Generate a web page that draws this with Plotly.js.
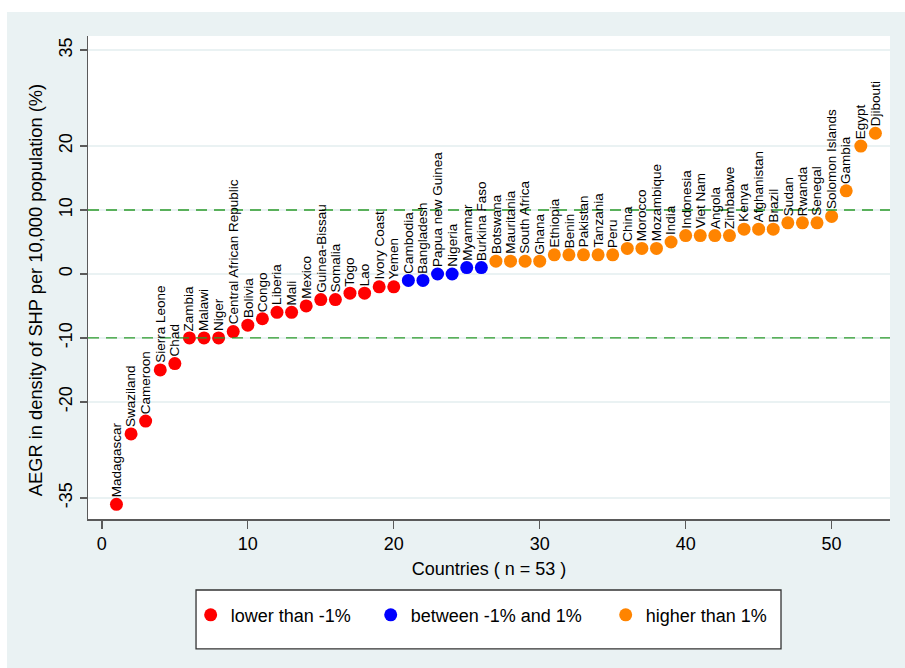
<!DOCTYPE html>
<html>
<head>
<meta charset="utf-8">
<script src="https://cdn.plot.ly/plotly-3.0.1.min.js"></script>
<style>
  html, body { margin: 0; padding: 0; background: #ffffff; width: 905px; height: 668px; overflow: hidden; }
  #chart { position: absolute; left: 7px; top: 12px; width: 898px; height: 656px; }
</style>
</head>
<body>
<div id="chart"></div>
<script>
// ---- data ----
const countries = ["Madagascar","Swaziland","Cameroon","Sierra Leone","Chad","Zambia","Malawi","Niger",
  "Central African Republic","Bolivia","Congo","Liberia","Mali","Mexico","Guinea-Bissau","Somalia","Togo",
  "Lao","Ivory Coast","Yemen","Cambodia","Bangladesh","Papua new Guinea","Nigeria","Myanmar","Burkina Faso",
  "Botswana","Mauritania","South Africa","Ghana","Ethiopia","Benin","Pakistan","Tanzania","Peru","China",
  "Morocco","Mozambique","India","Indonesia","Viet Nam","Angola","Zimbabwe","Kenya","Afghanistan","Brazil",
  "Sudan","Rwanda","Senegal","Solomon Islands","Gambia","Egypt","Djibouti"];
const aegr = [-36,-25,-23,-15,-14,-10,-10,-10,-9,-8,-7,-6,-6,-5,-4,-4,-3,-3,-2,-2,-1,-1,0,0,1,1,
  2,2,2,2,3,3,3,3,3,4,4,4,5,6,6,6,6,7,7,7,8,8,8,9,13,20,22];
const groupNames = ["lower than -1%","between -1% and 1%","higher than 1%"];
const groupColors = ["#ff0000","#0000ff","#ff8400"];
// group index of each country (0 = lower, 1 = between, 2 = higher)
const groupOf = [0,0,0,0,0,0,0,0,0,0,0,0,0,0,0,0,0,0,0,0,1,1,1,1,1,1,
  2,2,2,2,2,2,2,2,2,2,2,2,2,2,2,2,2,2,2,2,2,2,2,2,2,2,2];
const xTicks = [0,10,20,30,40,50];
const yTicks = [-35,-20,-10,0,10,20,35];
const refLines = [-10,10];

const rank = countries.map((c,i)=>i+1);
const font = "Liberation Sans, Arial, sans-serif";
const legendIds = ["legend","legend2","legend3"];
const legendX = [0.128, 0.3525, 0.6455];

const traces = groupNames.map((name,g)=>{
  const idx = rank.map((r,i)=>i).filter(i=>groupOf[i]===g);
  return {
    type: "scatter", mode: "markers", name: name, legend: legendIds[g],
    x: idx.map(i=>rank[i]), y: idx.map(i=>aegr[i]),
    text: idx.map(i=>countries[i]), hoverinfo: "text+y",
    marker: {color: groupColors[g], size: 13, line: {width: 0}}
  };
});

const annotations = countries.map((c,i)=>({
  x: rank[i], y: aegr[i], xref: "x", yref: "y",
  text: c, showarrow: false, textangle: -90,
  xanchor: "center", yanchor: "bottom", yshift: 6, borderpad: 0,
  font: {family: font, size: 13.5, color: "#000000"}
}));
// y-axis title (placed as annotation for exact position)
annotations.push({
  xref: "paper", yref: "paper", x: -0.066, y: 0.474, xanchor: "center", yanchor: "middle",
  text: "AEGR in density of SHP per 10,000 population (%)", showarrow: false, textangle: -90,
  font: {family: font, size: 18.3, color: "#000000"}
});

const shapes = refLines.map(v=>({
  type: "line", xref: "paper", x0: 0, x1: 1, yref: "y", y0: v, y1: v,
  line: {color: "#2a9a2a", width: 1.3, dash: "11px,7px"}, layer: "above"
}));
// legend frame (Stata style box)
shapes.push({type: "rect", xref: "paper", yref: "paper", x0: 0.1347, x1: 0.8641, y0: -0.269, y1: -0.147,
  line: {color: "#333333", width: 1.3}, fillcolor: "#ffffff", layer: "below"});

const legendBase = {orientation: "h", xanchor: "left", y: -0.199, yanchor: "middle",
  bgcolor: "rgba(0,0,0,0)", borderwidth: 0, font: {family: font, size: 18, color: "#000"}};

const layout = {
  width: 898, height: 656,
  margin: {l: 81, r: 15, t: 24, b: 149},
  paper_bgcolor: "#eaf2f3", plot_bgcolor: "#ffffff",
  font: {family: font, size: 18, color: "#000000"},
  showlegend: true,
  legend: Object.assign({}, legendBase, {x: legendX[0]}),
  legend2: Object.assign({}, legendBase, {x: legendX[1]}),
  legend3: Object.assign({}, legendBase, {x: legendX[2]}),
  xaxis: {
    range: [-0.95, 54], tickmode: "array", tickvals: xTicks, ticktext: xTicks.map(String),
    showgrid: false, zeroline: false, showline: true, linecolor: "#5a5a5a", linewidth: 1.5,
    ticks: "outside", ticklen: 8, tickcolor: "#5a5a5a", tickwidth: 1.3,
    tickfont: {family: font, size: 18, color: "#000"},
    title: {text: "Countries ( n = 53 )", font: {family: font, size: 18, color: "#000"}, standoff: 9},
    automargin: false
  },
  yaxis: {
    range: [-38.3, 37.2], tickmode: "array", tickvals: yTicks, ticktext: yTicks.map(String),
    tickangle: -90,
    showgrid: true, gridcolor: "#eaf2f3", gridwidth: 1.5, zeroline: false,
    showline: true, linecolor: "#5a5a5a", linewidth: 1.5,
    ticks: "outside", ticklen: 7, tickcolor: "#5a5a5a", tickwidth: 1.3,
    tickfont: {family: font, size: 18, color: "#000"},
    automargin: false
  },
  annotations: annotations,
  shapes: shapes
};

Plotly.newPlot("chart", traces, layout, {displayModeBar: false, staticPlot: true});
</script>
</body>
</html>
